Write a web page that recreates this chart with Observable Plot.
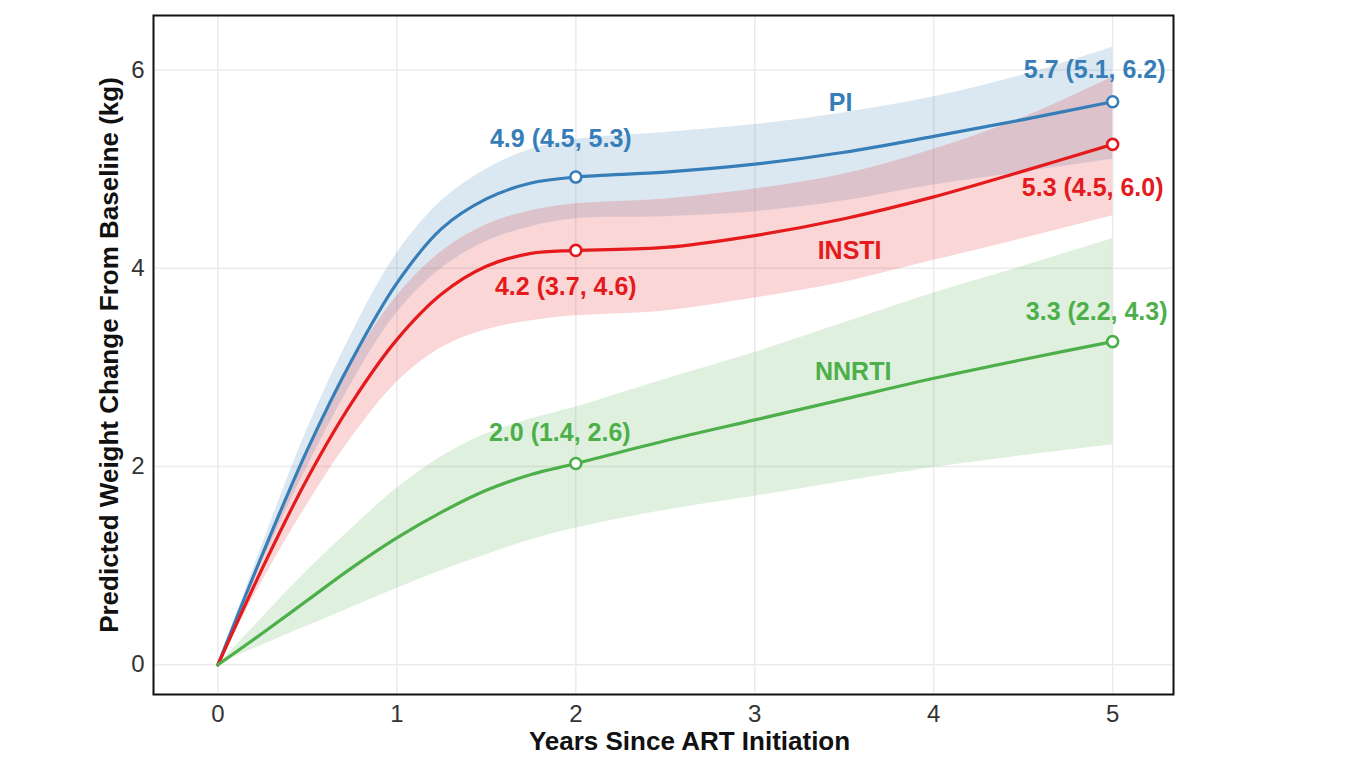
<!DOCTYPE html>
<html>
<head>
<meta charset="utf-8">
<script src="https://cdn.jsdelivr.net/npm/d3@7"></script>
<script src="https://cdn.jsdelivr.net/npm/@observablehq/plot@0.6"></script>
<style>
  html, body { margin: 0; padding: 0; background: #ffffff; }
  #chart { width: 1355px; height: 767px; }
</style>
</head>
<body>
<div id="chart"></div>
<script>
// ---- Data ----
const seriesNames = ["PI", "INSTI", "NNRTI"];
const seriesColors = ["#377EB8", "#E41A1C", "#4DAF4A"];

const years = [0, 0.25, 0.5, 0.75, 1, 1.25, 1.5, 1.75, 2, 2.5, 3, 3.5, 4, 4.5, 5];

const piMean   = [0, 1.12, 2.17, 3.08, 3.85, 4.40, 4.70, 4.86, 4.92, 4.97, 5.05, 5.17, 5.33, 5.5, 5.68];
const piLower  = [0, 1.05, 2.0, 2.85, 3.55, 4.0, 4.27, 4.42, 4.5, 4.52, 4.57, 4.68, 4.84, 4.97, 5.1];
const piUpper  = [0, 1.22, 2.38, 3.35, 4.15, 4.68, 5.0, 5.2, 5.3, 5.37, 5.45, 5.57, 5.73, 5.95, 6.23];

const instiMean  = [0, 0.98, 1.88, 2.65, 3.28, 3.74, 4.02, 4.15, 4.18, 4.21, 4.33, 4.5, 4.72, 4.98, 5.25];
const instiLower = [0, 0.85, 1.62, 2.3, 2.85, 3.2, 3.38, 3.47, 3.52, 3.57, 3.7, 3.86, 4.08, 4.3, 4.53];
const instiUpper = [0, 1.12, 2.18, 3.05, 3.72, 4.17, 4.44, 4.58, 4.65, 4.7, 4.8, 4.95, 5.2, 5.52, 5.93];

const nnrtiMean  = [0, 0.32, 0.65, 0.98, 1.28, 1.54, 1.76, 1.92, 2.03, 2.26, 2.47, 2.68, 2.89, 3.08, 3.26];
const nnrtiLower = [0, 0.2, 0.39, 0.58, 0.77, 0.95, 1.11, 1.26, 1.38, 1.56, 1.7, 1.85, 1.99, 2.11, 2.22];
const nnrtiUpper = [0, 0.48, 0.95, 1.38, 1.78, 2.1, 2.33, 2.48, 2.6, 2.88, 3.15, 3.45, 3.75, 4.02, 4.3];

// Reported estimates (95% CI) at 2 and 5 years
const markedYears = [2, 5];
const piEstimate    = [4.9, 5.7];
const piCI          = [[4.5, 5.3], [5.1, 6.2]];
const instiEstimate = [4.2, 5.3];
const instiCI       = [[3.7, 4.6], [4.5, 6.0]];
const nnrtiEstimate = [2.0, 3.3];
const nnrtiCI       = [[1.4, 2.6], [2.2, 4.3]];

// Series name annotations (data coordinates)
const seriesLabelYear  = [3.48, 3.53, 3.55];
const seriesLabelValue = [5.67, 4.17, 2.95];

const xTicks = [0, 1, 2, 3, 4, 5];
const yTicks = [0, 2, 4, 6];
const xTitle = "Years Since ART Initiation";
const yTitle = "Predicted Weight Change From Baseline (kg)";

// ---- Build tables ----
const seriesData = {
  PI: {mean: piMean, lo: piLower, hi: piUpper, est: piEstimate, ci: piCI},
  INSTI: {mean: instiMean, lo: instiLower, hi: instiUpper, est: instiEstimate, ci: instiCI},
  NNRTI: {mean: nnrtiMean, lo: nnrtiLower, hi: nnrtiUpper, est: nnrtiEstimate, ci: nnrtiCI}
};

const rows = [];
const pointRows = [];
const labelRows = [];
for (const s of seriesNames) {
  const d = seriesData[s];
  years.forEach((t, i) => rows.push({series: s, year: t, mean: d.mean[i], lo: d.lo[i], hi: d.hi[i]}));
  markedYears.forEach((t, j) => {
    const i = years.indexOf(t);
    pointRows.push({series: s, year: t, value: d.mean[i]});
    labelRows.push({
      series: s, year: t, value: d.mean[i],
      text: `${d.est[j].toFixed(1)} (${d.ci[j][0].toFixed(1)}, ${d.ci[j][1].toFixed(1)})`
    });
  });
}
const nameRows = seriesNames.map((s, i) => ({series: s, year: seriesLabelYear[i], value: seriesLabelValue[i]}));

// label offsets (pixels) – layout only
const labelOffset = {
  "PI-2": [-15, -38], "INSTI-2": [-10, 37], "NNRTI-2": [-16, -31],
  "PI-5": [-18, -32], "INSTI-5": [-20, 44], "NNRTI-5": [-16, -30]
};

const font = "'Liberation Sans', Arial, Helvetica, sans-serif";

const chart = Plot.plot({
  width: 1355,
  height: 767,
  marginLeft: 153,
  marginRight: 182,
  marginTop: 15,
  marginBottom: 73,
  style: {fontFamily: font, background: "#ffffff", overflow: "visible"},
  x: {domain: [-0.36, 5.34]},
  y: {domain: [-0.30, 6.55]},
  color: {domain: seriesNames, range: seriesColors},
  marks: [
    Plot.gridX(xTicks, {stroke: "#ebebeb", strokeOpacity: 1, strokeWidth: 1.5}),
    Plot.gridY(yTicks, {stroke: "#ebebeb", strokeOpacity: 1, strokeWidth: 1.5}),
    Plot.axisX(xTicks, {tickSize: 0, tickPadding: 10, fontSize: 24, fill: "#333", label: null, tickFormat: d => String(d)}),
    Plot.axisY(yTicks, {tickSize: 0, tickPadding: 9, fontSize: 24, fill: "#333", label: null, tickFormat: d => String(d)}),
    Plot.areaY(rows, {x: "year", y1: "lo", y2: "hi", z: "series", fill: "series", fillOpacity: 0.18, curve: "catmull-rom"}),
    Plot.line(rows, {x: "year", y: "mean", z: "series", stroke: "series", strokeWidth: 3.2, curve: "catmull-rom"}),
    Plot.dot(pointRows, {x: "year", y: "value", stroke: "series", fill: "white", r: 5.5, strokeWidth: 2.6}),
    ...labelRows.map(d => {
      const [dx, dy] = labelOffset[`${d.series}-${d.year}`];
      return Plot.text([d], {x: "year", y: "value", text: "text", fill: "series", dx, dy, fontSize: 25, fontWeight: "bold"});
    }),
    Plot.text(nameRows, {x: "year", y: "value", text: "series", fill: "series", fontSize: 25, fontWeight: "bold"}),
    Plot.frame({stroke: "#111", strokeWidth: 2}),
    Plot.text([xTitle], {text: d => d, frameAnchor: "bottom", textAnchor: "middle", lineAnchor: "middle", dy: 47, dx: 26, fontSize: 26, fontWeight: "bold", fill: "#111"}),
    Plot.text([yTitle], {text: d => d, frameAnchor: "left", textAnchor: "middle", lineAnchor: "middle", dx: -44, rotate: -90, fontSize: 26, fontWeight: "bold", fill: "#111"})
  ]
});

document.getElementById("chart").appendChild(chart);
</script>
</body>
</html>
